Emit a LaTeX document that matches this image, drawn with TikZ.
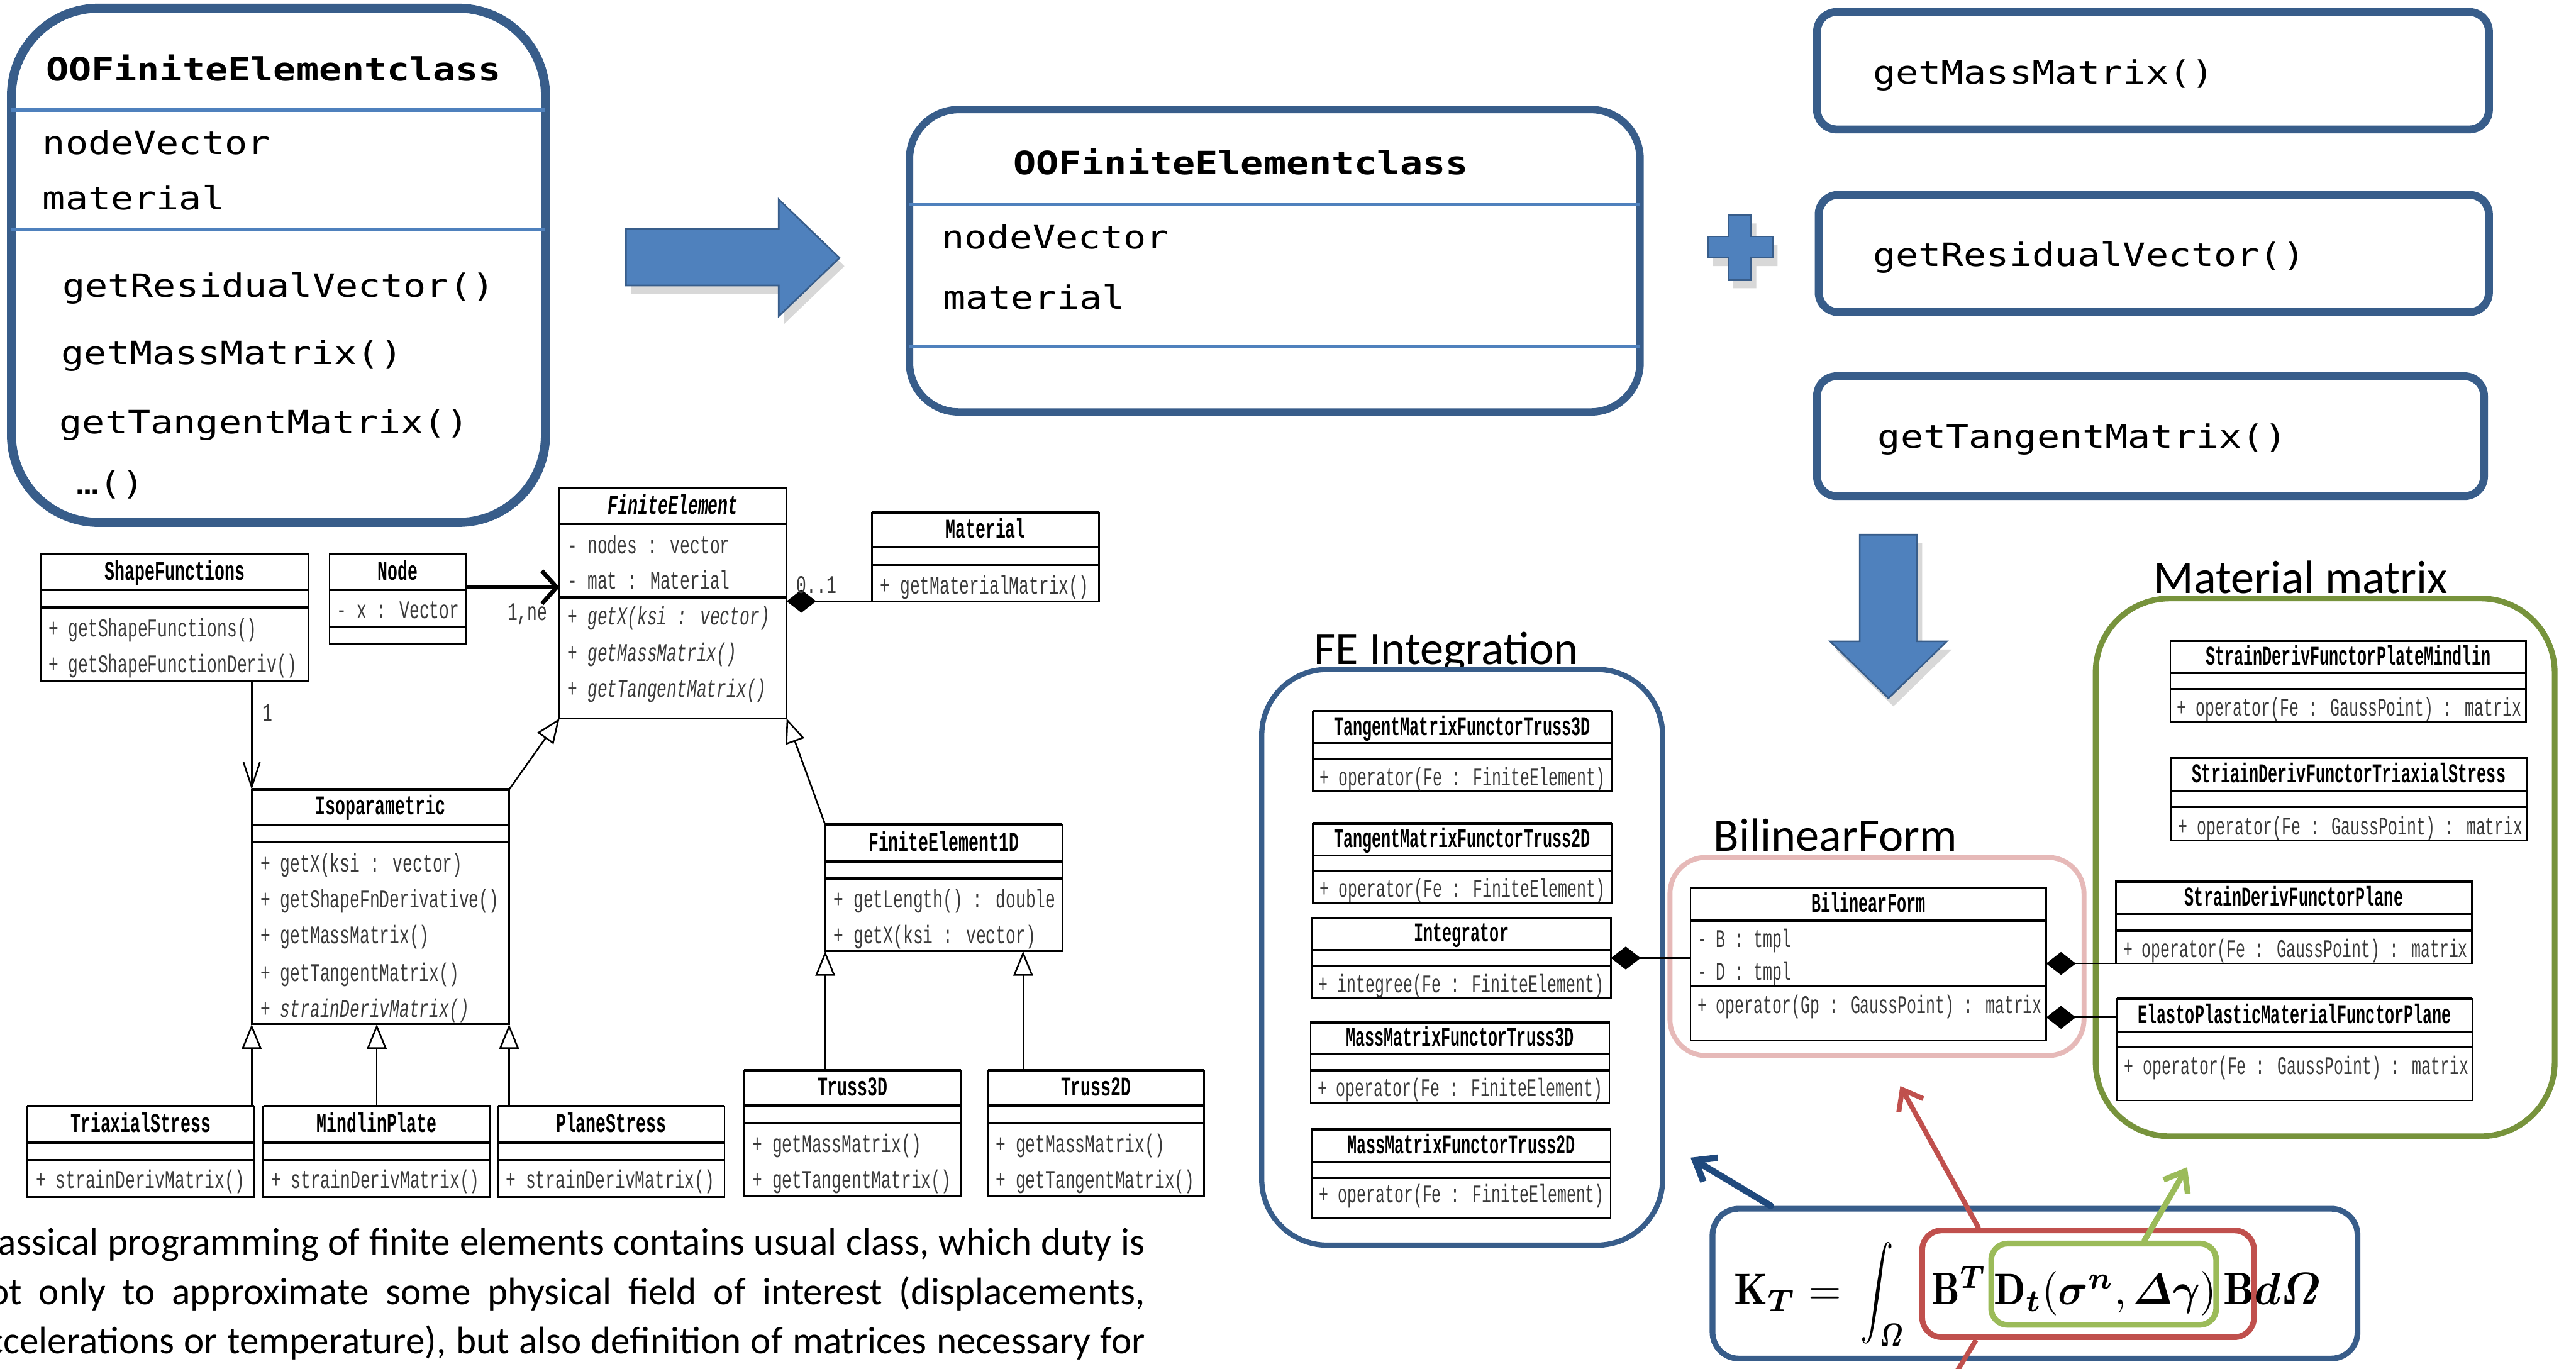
\documentclass[tikz,border=0pt]{standalone}
\usepackage{fontspec}
\usepackage{amsmath}
\usepackage{bm}
\usepackage{graphicx}
\usetikzlibrary{arrows.meta,fit,shadows,calc}
\newfontfamily\calib{Carlito}
\newfontfamily\consf{DejaVu Sans Mono}
\newfontfamily\umlf{Liberation Mono}
\definecolor{bxblue}{HTML}{385D8A}
\definecolor{ltblue}{HTML}{4F81BD}
\definecolor{pinkb}{HTML}{E6B9B8}
\definecolor{oliveg}{HTML}{77933C}
\definecolor{redb}{HTML}{C0504D}
\definecolor{greenb}{HTML}{9BBB59}
\definecolor{navyb}{HTML}{1F497D}
\definecolor{umlgray}{HTML}{3A3A3A}
\newcommand\ctx[1]{\scalebox{1}[0.85]{\fontsize{23}{26}\selectfont\consf #1}}
\newcommand\ctb[1]{\scalebox{1}[0.85]{\fontsize{23}{26}\selectfont\consf\bfseries #1}}
\newcommand\urg[2][0.65]{\scalebox{#1}[1]{\fontsize{15.5}{17}\selectfont\umlf\color{umlgray}#2}}
\newcommand\uri[2][0.65]{\scalebox{#1}[1]{\fontsize{15.5}{17}\selectfont\umlf\itshape\color{umlgray}#2}}
\newcommand\ubt[2][0.616]{\scalebox{#1}[1]{\fontsize{16.5}{18}\selectfont\umlf\bfseries #2}}
\newcommand\ubti[2][0.616]{\scalebox{#1}[1]{\fontsize{16.5}{18}\selectfont\umlf\bfseries\itshape #2}}
\newcommand\lbl[1]{{\fontsize{28.5}{32}\selectfont\calib #1}}
\newcommand\ptx[1]{{\fontsize{23.4}{30}\selectfont\calib\makebox[716pt][s]{#1}}}
\tikzset{
  txt/.style={inner sep=0pt, outer sep=0pt},
  ubox/.style={draw=black, line width=1pt, fill=white, inner sep=0pt, outer sep=0pt},
  bigbox/.style={draw=bxblue, fill=white, inner sep=0pt, outer sep=0pt},
  uline/.style={line width=1pt, black},
  gen/.style={uline, -{Triangle[length=15pt, width=12pt, fill=white]}},
  comp/.style={uline, {Diamond[length=18pt, width=14pt]}-},
  dep/.style={uline, -{Straight Barb[length=15pt, width=10pt]}},
  assoc/.style={line width=2.6pt, black, -{Straight Barb[length=9pt, width=20pt]}},
  farrow/.style={line cap=round, -{Straight Barb[length=11pt, width=17pt]}},
  bigarrow/.style={fill=ltblue, draw=bxblue, line width=1pt,
    drop shadow={shadow xshift=3pt, shadow yshift=-5pt, opacity=0.3}},
}
% name, xl, xr, ytop, ysep1, ysep2, ybottom, title
\newcommand\ucls[8]{%
  \coordinate (#1-a) at (#2,#4);
  \coordinate (#1-b) at (#3,#7);
  \node[ubox, fit=(#1-a)(#1-b)] (#1) {};
  \draw[line width=1.7pt] (#2,#4) -- (#3,#4);
  \draw[line width=1.3pt] (#2,#5) -- (#3,#5) (#2,#6) -- (#3,#6);
  \node[txt, anchor=base] (#1-t) at ({(#2+#3)/2},{(#4+#5)/2+4.8}) {#8};
}
% name, x, ycenter, text
\newcommand\uit[4]{\node[txt, anchor=base west] (#1) at (#2,{#3+4.5}) {#4};}
\begin{document}
\begin{tikzpicture}[x=1pt, y=-1pt]
\useasboundingbox (0,0) rectangle (1568,833);
\clip (0,0) rectangle (1568,833);
\fill[white] (0,0) rectangle (1568,833);

% ---------- top-left OO class box ----------
\coordinate (oa1) at (7,5); \coordinate (ob1) at (332,318);
\node[bigbox, line width=5.5pt, rounded corners=53pt, fit=(oa1)(ob1)] (OO1) {};
\draw[ltblue, line width=2pt] (OO1.west |- 0,67) -- (OO1.east |- 0,67);
\draw[ltblue, line width=2pt] (OO1.west |- 0,140) -- (OO1.east |- 0,140);
\node[txt, anchor=base west] (oo1t) at (28,49) {\ctb{OOFiniteElementclass}};
\node[txt, anchor=base west] (oo1a) at (26,94) {\ctx{nodeVector}};
\node[txt, anchor=base west] (oo1b) at (26,127.5) {\ctx{material}};
\node[txt, anchor=base west] (oo1c) at (38,180.8) {\ctx{getResidualVector()}};
\node[txt, anchor=base west] (oo1d) at (37.4,221.7) {\ctx{getMassMatrix()}};
\node[txt, anchor=base west] (oo1e) at (36.3,263.9) {\ctx{getTangentMatrix()}};
\node[txt, anchor=base west] (oo1f) at (46.5,301) {\ctx{…()}};

% ---------- big right arrow ----------
\draw[bigarrow] (381,139.4) -- (474,139.4) -- (474,121.4) -- (511,157) -- (474,192.5) -- (474,173.8) -- (381,173.8) -- cycle;

% ---------- middle OO class box ----------
\coordinate (oa2) at (553.6,66.7); \coordinate (ob2) at (998.3,250.8);
\node[bigbox, line width=4.5pt, rounded corners=30pt, fit=(oa2)(ob2)] (OO2) {};
\draw[ltblue, line width=2pt] (OO2.west |- 0,124.6) -- (OO2.east |- 0,124.6);
\draw[ltblue, line width=2pt] (OO2.west |- 0,211.2) -- (OO2.east |- 0,211.2);
\node[txt, anchor=base west] (oo2t) at (616.8,106.3) {\ctb{OOFiniteElementclass}};
\node[txt, anchor=base west] (oo2a) at (573.2,151.4) {\ctx{nodeVector}};
\node[txt, anchor=base west] (oo2b) at (574,188.3) {\ctx{material}};

% ---------- plus ----------
\draw[bigarrow] (1052,131) -- (1066,131) -- (1066,144) -- (1079,144) -- (1079,157) -- (1066,157) -- (1066,170.5) -- (1052,170.5) -- (1052,157) -- (1039.6,157) -- (1039.6,144) -- (1052,144) -- cycle;

% ---------- right method boxes ----------
\coordinate (ra1) at (1106,7.3); \coordinate (rb1) at (1515,78.8);
\node[bigbox, line width=4.8pt, rounded corners=12pt, fit=(ra1)(rb1)] (R1) {};
\node[txt, anchor=base west] (r1t) at (1140,51.2) {\ctx{getMassMatrix()}};
\coordinate (ra2) at (1107,118.6); \coordinate (rb2) at (1515,190);
\node[bigbox, line width=4.8pt, rounded corners=12pt, fit=(ra2)(rb2)] (R2) {};
\node[txt, anchor=base west] (r2t) at (1140,162) {\ctx{getResidualVector()}};
\coordinate (ra3) at (1106,229); \coordinate (rb3) at (1512,302);
\node[bigbox, line width=4.8pt, rounded corners=12pt, fit=(ra3)(rb3)] (R3) {};
\node[txt, anchor=base west] (r3t) at (1143,272.9) {\ctx{getTangentMatrix()}};

% ---------- down arrow ----------
\draw[bigarrow] (1132,325.5) -- (1167,325.5) -- (1167,390.4) -- (1185,390.4) -- (1149.5,425) -- (1114,390.4) -- (1132,390.4) -- cycle;

% ---------- left UML diagram ----------
\ucls{SF}{25}{188}{337.3}{359}{369.8}{414.6}{\ubt{ShapeFunctions}}
\uit{sf1}{29.5}{383}{\urg{+ getShapeFunctions()}}
\uit{sf2}{29.5}{405}{\urg{+ getShapeFunctionDeriv()}}
\ucls{ND}{200.6}{283.4}{337.3}{359}{381.5}{392}{\ubt{Node}}
\uit{nd1}{205}{372}{\urg{- x : Vector}}
\ucls{FE}{340.6}{478.8}{297}{319}{363.6}{437.3}{\ubti{FiniteElement}}
\uit{fe1}{345.6}{332.6}{\urg{- nodes : vector}}
\uit{fe2}{345.6}{354}{\urg{- mat : Material}}
\uit{fe3}{345.6}{376}{\uri{+ getX(ksi : vector)}}
\uit{fe4}{345.6}{398}{\uri{+ getMassMatrix()}}
\uit{fe5}{345.6}{420}{\uri{+ getTangentMatrix()}}
\ucls{MT}{530.8}{669}{312}{333}{344}{366}{\ubt{Material}}
\uit{mt1}{535.8}{357}{\urg{+ getMaterialMatrix()}}
\ucls{ISO}{153.2}{309.9}{480.6}{502}{512.5}{623.5}{\ubt{Isoparametric}}
\uit{iso1}{158.6}{526.4}{\urg{+ getX(ksi : vector)}}
\uit{iso2}{158.6}{548}{\urg{+ getShapeFnDerivative()}}
\uit{iso3}{158.6}{570}{\urg{+ getMassMatrix()}}
\uit{iso4}{158.6}{592.8}{\urg{+ getTangentMatrix()}}
\uit{iso5}{158.6}{614.5}{\uri{+ strainDerivMatrix()}}
\ucls{TS}{16.6}{154.7}{673.4}{695.5}{706.3}{728.6}{\ubt{TriaxialStress}}
\uit{ts1}{21.9}{719}{\urg{+ strainDerivMatrix()}}
\ucls{MP}{160.3}{298.4}{673.4}{695.5}{706.3}{728.6}{\ubt{MindlinPlate}}
\uit{mp1}{165}{719}{\urg{+ strainDerivMatrix()}}
\ucls{PS}{303}{441}{673.4}{695.5}{706.3}{728.6}{\ubt{PlaneStress}}
\uit{ps1}{308}{719}{\urg{+ strainDerivMatrix()}}
\ucls{FEA}{502.3}{646.6}{502}{524.4}{534.8}{579}{\ubt{FiniteElement1D}}
\uit{fea1}{507.5}{548}{\urg{+ getLength() : double}}
\uit{fea2}{507.5}{570}{\urg{+ getX(ksi : vector)}}
\ucls{TT}{453}{585}{651.5}{673}{683.8}{728.3}{\ubt{Truss3D}}
\uit{tt1}{458}{697}{\urg{+ getMassMatrix()}}
\uit{tt2}{458}{719}{\urg{+ getTangentMatrix()}}
\ucls{TW}{601.3}{733}{651.5}{673}{683.8}{728.3}{\ubt{Truss2D}}
\uit{tw1}{606.2}{697}{\urg{+ getMassMatrix()}}
\uit{tw2}{606.2}{719}{\urg{+ getTangentMatrix()}}

% left connectors
\draw[assoc] ([yshift=7.15pt]ND.east) -- ([yshift=7.15pt]ND.east -| FE.west);
\node[txt, anchor=base west] (lab1ne) at (309,377.5) {\urg{1,ne}};
\draw[dep] (SF.south -| ISO.north west) -- (ISO.north west);
\node[txt, anchor=base west] (lab1) at (159.8,439) {\urg{1}};
\draw[gen] (ISO.north east) -- (FE.south west);
\draw[gen] (FEA.north west) -- (FE.south east);
\draw[comp] (FE.east |- MT.south west) -- (MT.south west);
\node[txt, anchor=base west] (lab01) at (485,361) {\urg{0..1}};
\draw[gen] (TS.north -| ISO.south west) -- (ISO.south west);
\draw[gen] (MP.north) -- (MP.north |- ISO.south);
\draw[gen] (PS.north -| ISO.south east) -- (ISO.south east);
\draw[gen] (TT.north -| FEA.south west) -- (FEA.south west);
\coordinate (twtop) at ($(TW.north west)!0.163!(TW.north east)$);
\draw[gen] (twtop) -- (twtop |- FEA.south);

% ---------- FE Integration group ----------
\node[txt, anchor=base west] (feil) at (800,404.4) {\lbl{FE Integration}};
\coordinate (fia) at (768,407.5); \coordinate (fib) at (1012,758);
\node[draw=bxblue, line width=3.2pt, rounded corners=40pt, inner sep=0pt, fit=(fia)(fib)] (FEI) {};
\ucls{TMa}{799}{981}{433}{452.4}{462}{481.7}{\ubt[0.584]{TangentMatrixFunctorTruss3D}}
\uit{tma1}{803.5}{474}{\urg[0.615]{+ operator(Fe : FiniteElement)}}
\ucls{TMb}{799}{981}{501.3}{520.8}{530}{550}{\ubt[0.584]{TangentMatrixFunctorTruss2D}}
\uit{tmb1}{803.5}{541.7}{\urg[0.615]{+ operator(Fe : FiniteElement)}}
\ucls{INT}{798.4}{980.6}{558.8}{578.3}{587.8}{607.6}{\ubt[0.584]{Integrator}}
\uit{int1}{802.7}{599.6}{\urg[0.615]{+ integree(Fe : FiniteElement)}}
\ucls{MMa}{797.7}{979.6}{622.3}{641.8}{651.5}{671.5}{\ubt[0.584]{MassMatrixFunctorTruss3D}}
\uit{mma1}{802}{663}{\urg[0.615]{+ operator(Fe : FiniteElement)}}
\ucls{MMb}{798.5}{980.3}{687.4}{707.4}{717.2}{741.8}{\ubt[0.584]{MassMatrixFunctorTruss2D}}
\uit{mmb1}{803}{727.7}{\urg[0.615]{+ operator(Fe : FiniteElement)}}

% ---------- BilinearForm group ----------
\node[txt, anchor=base west] (bfl) at (1043,518) {\lbl{BilinearForm}};
\coordinate (pka) at (1016.5,521.9); \coordinate (pkb) at (1268.5,642.6);
\node[draw=pinkb, line width=3pt, rounded corners=22pt, inner sep=0pt, fit=(pka)(pkb)] (PK) {};
\ucls{BF}{1029}{1245.5}{540.6}{560.5}{600.4}{633.5}{\ubt[0.584]{BilinearForm}}
\uit{bf1}{1033.2}{572.3}{\urg[0.615]{- B : tmpl}}
\uit{bf2}{1033.2}{592}{\urg[0.615]{- D : tmpl}}
\uit{bf3}{1033.2}{612.5}{\urg[0.615]{+ operator(Gp : GaussPoint) : matrix}}

% ---------- Material matrix group ----------
\node[txt, anchor=base west] (mml) at (1311,361) {\lbl{Material matrix}};
\coordinate (gma) at (1275.6,364.3); \coordinate (gmb) at (1555,691.7);
\node[draw=oliveg, line width=3.5pt, rounded corners=45pt, inner sep=0pt, fit=(gma)(gmb)] (GM) {};
\ucls{SPM}{1321}{1537.6}{390}{409.7}{419.4}{439.6}{\ubt[0.584]{StrainDerivFunctorPlateMindlin}}
\uit{spm1}{1325}{431.2}{\urg[0.615]{+ operator(Fe : GaussPoint) : matrix}}
\ucls{STS}{1321.6}{1538}{461.3}{481.7}{491.2}{511.6}{\ubt[0.584]{StriainDerivFunctorTriaxialStress}}
\uit{sts1}{1326}{503.7}{\urg[0.615]{+ operator(Fe : GaussPoint) : matrix}}
\ucls{SDP}{1288}{1504.6}{536.5}{556.4}{566.5}{586.5}{\ubt[0.584]{StrainDerivFunctorPlane}}
\uit{sdp1}{1292.4}{578.5}{\urg[0.615]{+ operator(Fe : GaussPoint) : matrix}}
\ucls{EPM}{1288.5}{1505}{608}{628.4}{637.4}{669.9}{\ubt[0.584]{ElastoPlasticMaterialFunctorPlane}}
\uit{epm1}{1293}{649.4}{\urg[0.615]{+ operator(Fe : GaussPoint) : matrix}}

% right connectors
\draw[comp] (INT.east) -- (INT.east -| BF.west);
\draw[comp] (BF.east |- SDP.south west) -- (SDP.south west);
\coordinate (epml) at ([yshift=19.65pt]EPM.west);
\draw[comp] (BF.east |- epml) -- (epml);

% ---------- formula ----------
\coordinate (fba) at (1042.4,735.8); \coordinate (fbb) at (1435,827);
\node[draw=bxblue, fill=white, line width=3.5pt, rounded corners=16pt, inner sep=0pt, fit=(fba)(fbb)] (FB) {};
\coordinate (rba) at (1170,749); \coordinate (rbb) at (1372,814);
\node[draw=redb, line width=3.5pt, rounded corners=12pt, inner sep=0pt, fit=(rba)(rbb)] (RB) {};
\coordinate (gba) at (1212,757); \coordinate (gbb) at (1349,806.5);
\node[draw=greenb, line width=3.5pt, rounded corners=10pt, inner sep=0pt, fit=(gba)(gbb)] (GB) {};
\node[txt, anchor=base west] (fk) at (1055.7,794.2) {\resizebox{65.2pt}{18.5pt}{$\mathbf{K}_{\bm{T}}=$}};
\node[txt, anchor=base west] (fint) at (1132.7,794.2) {\resizebox{26.7pt}{37.9pt}{$\displaystyle\int_{\bm{\varOmega}}$}};
\node[txt, anchor=base west] (fbt) at (1175.7,794.2) {\resizebox{33.5pt}{23.5pt}{$\mathbf{B}^{\bm{T}}$}};
\node[txt, anchor=base west] (fd) at (1213.7,794.2) {\resizebox{135.3pt}{20.2pt}{$\mathbf{D}_{\bm{t}}(\bm{\sigma}^{\bm{n}},\bm{\varDelta}\bm{\gamma})$}};
\node[txt, anchor=base west] (fbd) at (1353.6,794.2) {\resizebox{59.2pt}{19.2pt}{$\mathbf{B}\bm{d}\bm{\varOmega}$}};

% formula arrows
\coordinate (bTip) at (1029,704.7);
\coordinate (rTip) at (1156.7,661.1);
\coordinate (gTip) at (1331.3,710.5);
\coordinate (rEnd) at (1188,840);
\draw[farrow, navyb, line width=4pt] ($(FB.north west)!0.094!(FB.north east)$) -- (bTip);
\draw[farrow, redb, line width=3pt] ($(RB.north west)!0.175!(RB.north east)$) -- (rTip);
\draw[redb, line width=3pt] ($(RB.south west)!0.168!(RB.south east)$) -- (rEnd);
\draw[farrow, greenb, line width=3.5pt] ($(GB.north west)!0.676!(GB.north east)$) -- (gTip);

% ---------- paragraph ----------
\node[txt, anchor=base west] (p1) at (-19,764) {\ptx{Classical programming of finite elements contains usual class, which duty is}};
\node[txt, anchor=base west] (p2) at (-19,794) {\ptx{not only to approximate some physical field of interest (displacements,}};
\node[txt, anchor=base west] (p3) at (-19,824) {\ptx{accelerations or temperature), but also definition of matrices necessary for}};
\end{tikzpicture}
\end{document}
